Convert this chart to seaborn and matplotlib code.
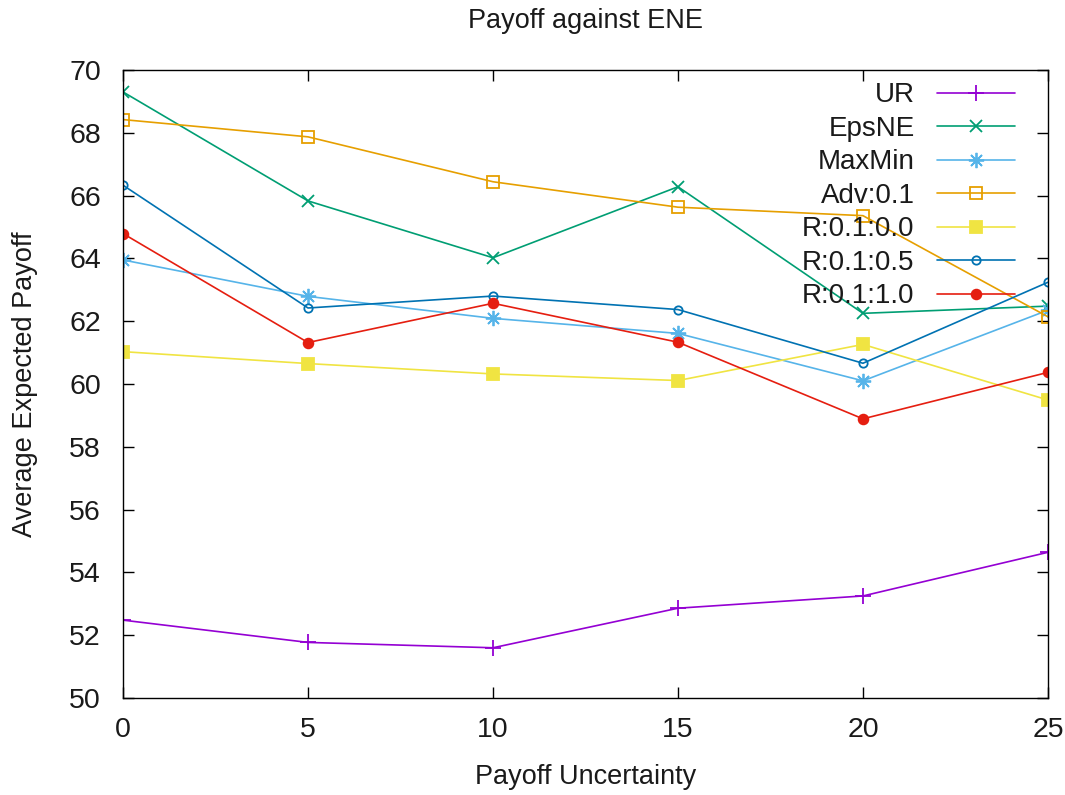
import matplotlib
matplotlib.use("Agg")
import pandas as pd
import matplotlib.pyplot as plt
import seaborn as sns


uncertainty = [0, 5, 10, 15, 20, 25]

ur = [52.48, 51.77, 51.60, 52.86, 53.25, 54.64]
eps_ne = [69.30, 65.83, 64.02, 66.28, 62.25, 62.48]
max_min = [63.95, 62.79, 62.09, 61.61, 60.10, 62.35]
adv_01 = [68.42, 67.87, 66.44, 65.63, 65.36, 62.14]
r_01_00 = [61.03, 60.65, 60.32, 60.11, 61.26, 59.49]
r_01_05 = [66.33, 62.42, 62.80, 62.37, 60.66, 63.24]
r_01_10 = [64.79, 61.32, 62.57, 61.33, 58.89, 60.37]

series_names = ['UR', 'EpsNE', 'MaxMin', 'Adv:0.1', 'R:0.1:0.0', 'R:0.1:0.5', 'R:0.1:1.0']
series_values = [ur, eps_ne, max_min, adv_01, r_01_00, r_01_05, r_01_10]

df = pd.DataFrame({
    'Payoff Uncertainty': uncertainty * len(series_names),
    'Average Expected Payoff': [v for vals in series_values for v in vals],
    'metodo': [n for n in series_names for _ in uncertainty],
})

# colores y marcadores al estilo gnuplot
estilos = {
    'UR': ('#9400D3', '+', True, 11),
    'EpsNE': ('#009E73', 'x', True, 9),
    'MaxMin': ('#56B4E9', (8, 2, 0), True, 11),
    'Adv:0.1': ('#E69F00', 's', False, 8),
    'R:0.1:0.0': ('#F0E442', 's', True, 8),
    'R:0.1:0.5': ('#0072B2', 'o', False, 6),
    'R:0.1:1.0': ('#E51E10', 'o', True, 7),
}

sns.set_style('ticks')
plt.rcParams['font.family'] = ['Liberation Sans', 'DejaVu Sans']
plt.rcParams['text.color'] = '#1a1a1a'
plt.rcParams['axes.labelcolor'] = '#1a1a1a'

fig, ax = plt.subplots(figsize=(10.65, 7.95), dpi=100)
fig.subplots_adjust(left=0.1155, right=0.984, top=0.912, bottom=0.122)

for nombre in series_names:
    color, marker, lleno, ms = estilos[nombre]
    sub = df[df['metodo'] == nombre]
    sns.lineplot(
        data=sub, x='Payoff Uncertainty', y='Average Expected Payoff',
        color=color, marker=marker, markersize=ms,
        markerfacecolor=color if lleno else 'none',
        markeredgecolor=color, markeredgewidth=1.3,
        linewidth=1.2, label=nombre, ax=ax,
    )

ax.set_xlim(0, 25)
ax.set_ylim(50, 70)
ax.set_xticks(uncertainty)
ax.set_yticks(range(50, 71, 2))
ax.tick_params(direction='in', top=True, right=True, length=8, width=1,
               labelsize=20.5, colors='black', labelcolor='#1a1a1a')
ax.tick_params(axis='x', pad=14)
ax.tick_params(axis='y', pad=16)
for s in ax.spines.values():
    s.set_color('black')
    s.set_linewidth(1)

ax.set_title('Payoff against ENE', fontsize=19.5, pad=30)
ax.set_xlabel('Payoff Uncertainty', fontsize=19.5, labelpad=15)
ax.set_ylabel('Average Expected Payoff', fontsize=19.5, labelpad=22)

ax.legend(loc='upper right', frameon=False, markerfirst=False, fontsize=20,
          handlelength=2.8, labelspacing=0.27, handletextpad=0.8,
          borderaxespad=0.2, borderpad=0.25, bbox_to_anchor=(0.9775, 1.0))

fig.savefig('out.png', dpi=100)
